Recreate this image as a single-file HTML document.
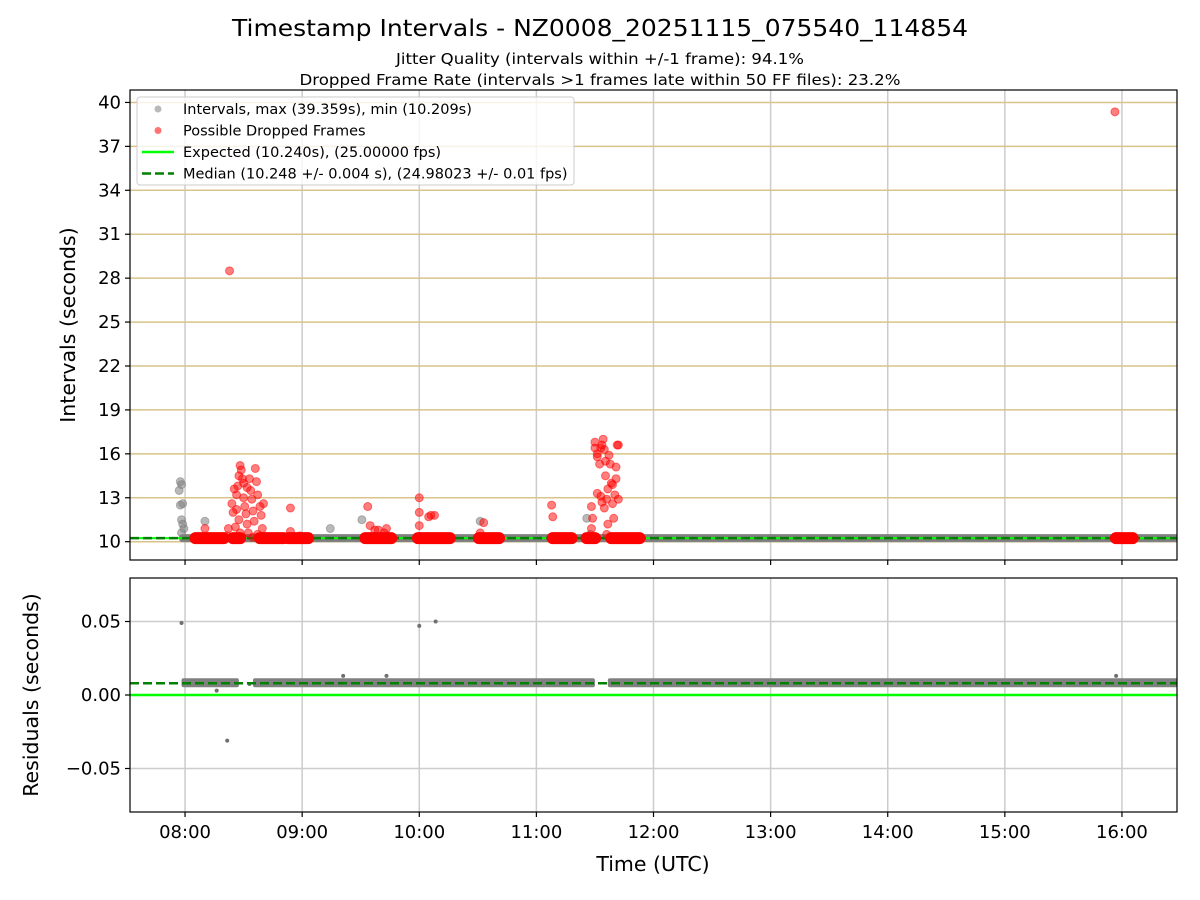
<!DOCTYPE html>
<html><head><meta charset="utf-8">
<style>
html,body{margin:0;padding:0;background:#fff;}
svg{display:block;font-family:"DejaVu Sans","Liberation Sans",sans-serif;}
</style></head>
<body>
<svg id="chart" width="1200" height="900" viewBox="0 0 1200 900">
<text x="600" y="36" text-anchor="middle" font-size="23" textLength="736" lengthAdjust="spacingAndGlyphs" fill="#000">Timestamp Intervals - NZ0008_20251115_075540_114854</text>
<text x="600" y="64" text-anchor="middle" font-size="15" textLength="408" lengthAdjust="spacingAndGlyphs" fill="#000">Jitter Quality (intervals within +/-1 frame): 94.1%</text>
<text x="600" y="85" text-anchor="middle" font-size="15" textLength="601" lengthAdjust="spacingAndGlyphs" fill="#000">Dropped Frame Rate (intervals &gt;1 frames late within 50 FF files): 23.2%</text>
<g id="topPanel"></g>
<g id="botPanel"></g>
<text x="653" y="871" text-anchor="middle" font-size="20.5">Time (UTC)</text>
<text transform="translate(75,325) rotate(-90)" text-anchor="middle" font-size="20.5">Intervals (seconds)</text>
<text transform="translate(38,695) rotate(-90)" text-anchor="middle" font-size="20.5">Residuals (seconds)</text>
</svg>
<script>
const xTicks = [8,9,10,11,12,13,14,15,16];
const xTickLabels = ["08:00","09:00","10:00","11:00","12:00","13:00","14:00","15:00","16:00"];
const yTicksTop = [10,13,16,19,22,25,28,31,34,37,40];
const yTicksBot = [-0.05,0,0.05];
const yTicksBotLabels = ["\u22120.05","0.00","0.05"];
const expected = 10.240;
const median = 10.248;
const medianResid = 0.008;
const bandRange = [7.95, 16.5];
const redSegments = [[8.08,8.34],[8.40,8.48],[8.63,8.85],[8.87,9.06],[9.53,9.77],[9.98,10.27],[10.50,10.69],[11.13,11.31],[11.42,11.51],[11.63,11.89],[15.94,16.10]];
const grayPts = [[7.96,14.1],[7.97,13.9],[7.95,13.5],[7.98,12.6],[7.96,12.5],[7.97,11.5],[7.98,11.2],[7.99,10.9],[7.97,10.6],[8.17,11.4],[9.24,10.9],[9.51,11.5],[10.52,11.4],[11.43,11.6],[11.46,10.5]];
const redPts = [[8.38,28.5],[8.37,10.9],[8.36,10.4],[8.40,12.6],[8.42,13.6],[8.44,12.2],[8.45,13.8],[8.46,14.5],[8.47,15.2],[8.48,14.9],[8.49,14.3],[8.50,14.0],[8.50,13.0],[8.51,12.4],[8.52,11.9],[8.53,11.2],[8.54,10.6],[8.55,14.3],[8.56,13.5],[8.57,12.9],[8.58,12.1],[8.59,11.4],[8.60,15.0],[8.61,14.1],[8.62,13.2],[8.62,10.5],[8.64,12.4],[8.65,11.8],[8.66,10.9],[8.46,11.5],[8.43,11.0],[8.47,10.6],[8.53,13.7],[8.58,10.3],[8.67,12.6],[8.41,12.0],[8.44,13.2],[8.17,10.9],[8.90,12.3],[8.90,10.7],[8.98,10.4],[9.56,12.4],[9.58,11.1],[9.62,10.8],[9.65,10.8],[9.70,10.6],[9.72,10.9],[10.0,13.0],[10.0,12.0],[10.0,11.1],[10.08,11.7],[10.10,11.8],[10.13,11.8],[10.55,11.3],[10.52,10.6],[11.13,12.5],[11.14,11.7],[11.47,10.9],[11.47,12.4],[11.48,11.6],[11.50,16.8],[11.50,16.4],[11.52,16.0],[11.52,15.8],[11.54,15.3],[11.55,16.4],[11.55,13.1],[11.56,12.7],[11.56,16.6],[11.57,17.0],[11.58,16.3],[11.59,15.5],[11.59,14.5],[11.60,12.9],[11.61,13.6],[11.61,11.2],[11.62,15.9],[11.63,15.3],[11.64,14.0],[11.65,13.9],[11.65,12.6],[11.66,11.6],[11.67,13.2],[11.68,14.3],[11.68,15.1],[11.69,16.6],[11.70,16.6],[11.70,12.9],[11.60,10.5],[11.52,13.3],[11.58,12.3],[11.64,10.3],[15.94,39.36]];
const residSegments = [[7.97,8.46],[8.58,11.5],[11.61,16.5]];
const residPts = [[7.97,0.049],[8.36,-0.031],[10.0,0.047],[10.14,0.050],[8.27,0.003],[9.35,0.013],[9.72,0.013],[8.55,0.0075],[15.95,0.013]];

const NS="http://www.w3.org/2000/svg";
const L=130,R=1177;
const xMin=7.53,xMax=16.47;
const X=h=>L+(h-xMin)/(xMax-xMin)*(R-L);
const T0=90,T1=560,yTopMin=8.75,yTopMax=40.85;
const YT=v=>T1-(v-yTopMin)/(yTopMax-yTopMin)*(T1-T0);
const B0=578,B1=812,yBotMin=-0.0796,yBotMax=0.0796;
const YB=v=>B1-(v-yBotMin)/(yBotMax-yBotMin)*(B1-B0);
function mk(parent,tag,attrs,text){const e=document.createElementNS(NS,tag);for(const k in attrs)e.setAttribute(k,attrs[k]);if(text!==undefined)e.textContent=text;parent.appendChild(e);return e;}
const topG=document.getElementById('topPanel'),botG=document.getElementById('botPanel');

const defs=mk(document.getElementById('chart'),'defs',{});
const c1=mk(defs,'clipPath',{id:'ct'});mk(c1,'rect',{x:L,y:T0,width:R-L,height:T1-T0});
const c2=mk(defs,'clipPath',{id:'cb'});mk(c2,'rect',{x:L,y:B0,width:R-L,height:B1-B0});
const gt=mk(topG,'g',{'clip-path':'url(#ct)'});
const gb=mk(botG,'g',{'clip-path':'url(#cb)'});

xTicks.forEach((h,i)=>{
  let l=mk(gt,'line',{x1:X(h),x2:X(h),y1:T0,y2:T1,stroke:'#cccccc','stroke-width':1.5});
  
  
  let l2=mk(gb,'line',{x1:X(h),x2:X(h),y1:B0,y2:B1,stroke:'#cccccc','stroke-width':1.5});
  
  
});
yTicksTop.forEach(v=>{
  let l=mk(gt,'line',{x1:L,x2:R,y1:YT(v),y2:YT(v),stroke:'#d8c48a','stroke-width':1.5});
  
  
});
yTicksBot.forEach(v=>{
  let l=mk(gb,'line',{x1:L,x2:R,y1:YB(v),y2:YB(v),stroke:'#cccccc','stroke-width':1.5});
  
  
});
let band=mk(gt,'rect',{x:X(bandRange[0]),y:YT(median)-4,width:X(bandRange[1])-X(bandRange[0]),height:8,fill:'#808080',rx:3});


let ex=mk(gt,'line',{x1:L,x2:R,y1:YT(expected),y2:YT(expected),stroke:'#00ff00','stroke-width':2});


let md=mk(gt,'line',{x1:L,x2:R,y1:YT(median),y2:YT(median),stroke:'#008000','stroke-width':2.5,'stroke-dasharray':'9,4'});


grayPts.forEach(p=>{
  let c=mk(gt,'circle',{cx:X(p[0]),cy:YT(p[1]),r:4,fill:'#808080','fill-opacity':0.55,stroke:'#808080','stroke-opacity':0.55});
  
  
});
redSegments.forEach(s=>{
  let r=mk(gt,'rect',{x:X(s[0])-5,y:YT(expected)-6,width:X(s[1])-X(s[0])+10,height:12,rx:6,fill:'#ff0000'});
  
  
});
redPts.forEach(p=>{
  let c=mk(gt,'circle',{cx:X(p[0]),cy:YT(p[1]),r:4,fill:'#ff0000','fill-opacity':0.5,stroke:'#ff0000','stroke-opacity':0.5});
  
  
});

let e0=mk(gb,'line',{x1:L,x2:R,y1:YB(0),y2:YB(0),stroke:'#00ff00','stroke-width':2.5});


residSegments.forEach(s=>{
  let r=mk(gb,'rect',{x:X(s[0]),y:YB(medianResid)-5,width:X(s[1])-X(s[0]),height:9,rx:2,fill:'#808080'});
  
  
});
residPts.forEach(p=>{
  let c=mk(gb,'circle',{cx:X(p[0]),cy:YB(p[1]),r:2,fill:'#707070'});
  
  
});
let m0=mk(gb,'line',{x1:L,x2:R,y1:YB(medianResid),y2:YB(medianResid),stroke:'#008000','stroke-width':2.5,'stroke-dasharray':'9,4'});



let f1=mk(topG,'rect',{x:L,y:T0,width:R-L,height:T1-T0,fill:'none',stroke:'#000','stroke-width':1.2});


let f2=mk(botG,'rect',{x:L,y:B0,width:R-L,height:B1-B0,fill:'none',stroke:'#000','stroke-width':1.2});



xTicks.forEach((h,i)=>{
  mk(topG,'line',{x1:X(h),x2:X(h),y1:T1,y2:T1+5,stroke:'#000','stroke-width':1.2});
  mk(botG,'line',{x1:X(h),x2:X(h),y1:B1,y2:B1+5,stroke:'#000','stroke-width':1.2});
  let t=mk(botG,'text',{x:X(h),y:B1+26,'text-anchor':'middle','font-size':18},xTickLabels[i]);
  
  
});
yTicksTop.forEach(v=>{
  mk(topG,'line',{x1:L-5,x2:L,y1:YT(v),y2:YT(v),stroke:'#000','stroke-width':1.2});
  let t=mk(topG,'text',{x:L-9,y:YT(v)+6,'text-anchor':'end','font-size':18},String(v));
  
  
});
yTicksBot.forEach((v,i)=>{
  mk(botG,'line',{x1:L-5,x2:L,y1:YB(v),y2:YB(v),stroke:'#000','stroke-width':1.2});
  let t=mk(botG,'text',{x:L-9,y:YB(v)+6,'text-anchor':'end','font-size':18},yTicksBotLabels[i]);
  
  
});

const lg=mk(topG,'g',{});


mk(lg,'rect',{x:137,y:97,width:437,height:88,rx:3,fill:'#fff','fill-opacity':0.8,stroke:'#cccccc'});
const items=[
  ['Intervals, max (39.359s), min (10.209s)','gray'],
  ['Possible Dropped Frames','red'],
  ['Expected (10.240s), (25.00000 fps)','exp'],
  ['Median (10.248 +/- 0.004 s), (24.98023 +/- 0.01 fps)','med']];
items.forEach((it,i)=>{
  const y=109+i*21.5;
  const g=mk(lg,'g',{});
  
  
  if(it[1]==='gray') mk(g,'circle',{cx:158,cy:y,r:3.5,fill:'#808080','fill-opacity':0.55});
  if(it[1]==='red') mk(g,'circle',{cx:158,cy:y,r:3.5,fill:'#ff0000','fill-opacity':0.55});
  if(it[1]==='exp') mk(g,'line',{x1:142,x2:174,y1:y,y2:y,stroke:'#00ff00','stroke-width':2.5});
  if(it[1]==='med') mk(g,'line',{x1:142,x2:174,y1:y,y2:y,stroke:'#008000','stroke-width':2.5,'stroke-dasharray':'9,4'});
  mk(g,'text',{x:183,y:y+5,'font-size':14.5},it[0]);
});
</script>
</body></html>
